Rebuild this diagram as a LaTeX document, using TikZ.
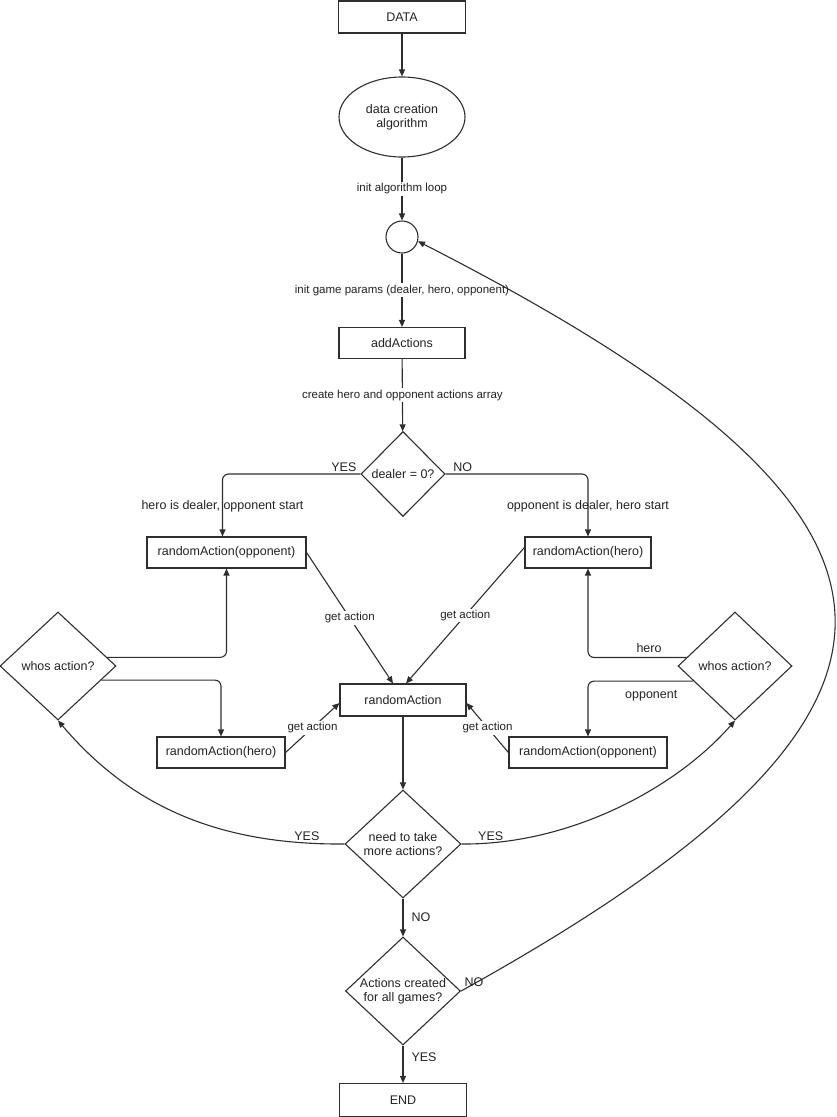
\documentclass[tikz,border=0pt]{standalone}
\usepackage{fontspec}
\setmainfont{Liberation Sans}
\usetikzlibrary{shapes.geometric,arrows.meta,calc}
\definecolor{lc}{HTML}{2E2E2E}
\definecolor{tc}{HTML}{222222}
\begin{document}
\begin{tikzpicture}[x=1pt,y=-1pt,
  every node/.style={text=tc, font=\fontsize{12.5}{14}\selectfont},
  box/.style={draw=lc, line width=1.1pt, rectangle, inner sep=2pt},
  oval/.style={draw=lc, line width=1.1pt, ellipse, align=center, inner sep=0pt},
  dia/.style={draw=lc, line width=1.1pt, diamond, aspect=1.07, inner sep=0pt, align=center},
  arr/.style={draw=lc, line width=1.1pt, -{Triangle[length=7pt,width=6pt]}},
  rc/.style={rounded corners=6pt},
  lbls/.style={fill=white, inner sep=1.5pt, font=\fontsize{11.5}{13}\selectfont},
  lbl/.style={inner sep=2pt}
]
\useasboundingbox (0,0) rectangle (837,1117);

% nodes
\node[box, minimum width=127pt, minimum height=32pt] (data) at (402,17) {DATA};
\node[oval, minimum width=126pt, minimum height=80pt] (algo) at (402,117) {data creation\\algorithm};
\node[draw=lc, line width=1.1pt, circle, minimum size=32pt, inner sep=0pt] (loop) at (402,237) {};
\node[box, minimum width=126pt, minimum height=31pt] (add) at (402,343) {addActions};
\node[dia, minimum width=84pt, minimum height=85pt] (deal) at (403,474) {dealer = 0?};
\node[box, minimum width=159pt, minimum height=31pt] (rao) at (226.5,552.5) {randomAction(opponent)};
\node[box, minimum width=126pt, minimum height=31pt] (rhr) at (588,552.5) {randomAction(hero)};
\node[box, minimum width=126pt, minimum height=32pt] (ra) at (403,700) {randomAction};
\node[dia, minimum width=116pt, minimum height=108pt] (wl) at (58,666) {whos action?};
\node[dia, minimum width=114pt, minimum height=108pt] (wr) at (735,666) {whos action?};
\node[box, minimum width=128pt, minimum height=31pt] (rhl) at (221,752.5) {randomAction(hero)};
\node[box, minimum width=158pt, minimum height=31pt] (ror) at (588,752.5) {randomAction(opponent)};
\node[dia, minimum width=116pt, minimum height=108pt] (need) at (403,844) {need to take\\more actions?};
\node[dia, minimum width=115pt, minimum height=108pt] (done) at (403,991) {Actions created\\for all games?};
\node[box, minimum width=127pt, minimum height=33pt] (endn) at (403,1100) {END};

% main column
\draw[arr] (data) -- (algo);
\draw[arr] (algo) -- node[lbls]{init algorithm loop} (loop);
\draw[arr] (loop) -- node[lbls]{init game params (dealer, hero, opponent)} (add);
\draw[arr] (add) -- node[lbls]{create hero and opponent actions array} (deal);

% dealer branches
\draw[arr, rc] (deal.west) -| node[lbl, pos=0.06, above=0pt]{YES}
   node[lbl, pos=0.76]{hero is dealer, opponent start} ([xshift=-4pt]rao.north);
\draw[arr, rc] (deal.east) -| node[lbl, pos=0.06, above=0pt]{NO}
   node[lbl, pos=0.76]{opponent is dealer, hero start} (rhr.north);

% get action arrows
\draw[arr] (rao.east) -- node[lbls]{get action} ([xshift=-10pt]ra.north);
\draw[arr] ([yshift=5pt]rhr.west) -- node[lbls]{get action} ([xshift=3pt]ra.north);
\draw[arr] (rhl.east) -- node[lbls]{get action} ([yshift=-3pt]ra.west);
\draw[arr] (ror.west) -- node[lbls]{get action} ([yshift=-3pt]ra.east);

% whos action left
\draw[arr, rc] (wl.10) -| (rao.south);
\draw[arr, rc] (wl.-18) -| (rhl.north);

% whos action right
\draw[arr, rc] (wr.170) -| node[lbl, pos=0.19, above=2pt]{hero} (rhr.south);
\draw[arr, rc] (wr.200) -| node[lbl, pos=0.2, below=7pt]{opponent} (ror.north);

% lower column
\draw[arr] (ra) -- (need);
\draw[arr] (need) -- node[lbl, right=6pt]{NO} (done);
\draw[arr] (done) -- node[lbl, pos=0.3, right=6pt]{YES} (endn);

% YES curves
\draw[arr] (need.west) .. controls (215,845) and (129,804) .. node[lbl, pos=0.1, above=0pt]{YES} (wl.south);
\draw[arr] (need.east) .. controls (570,845) and (676,788) .. node[lbl, pos=0.09, above=0pt]{YES} (wr.south);

% big loop back
\draw[arr] (done.east) .. controls (981,703) and (950,513) .. node[lbl, pos=0, anchor=south west, xshift=1pt, yshift=2pt]{NO} (loop.-15);
\end{tikzpicture}
\end{document}
